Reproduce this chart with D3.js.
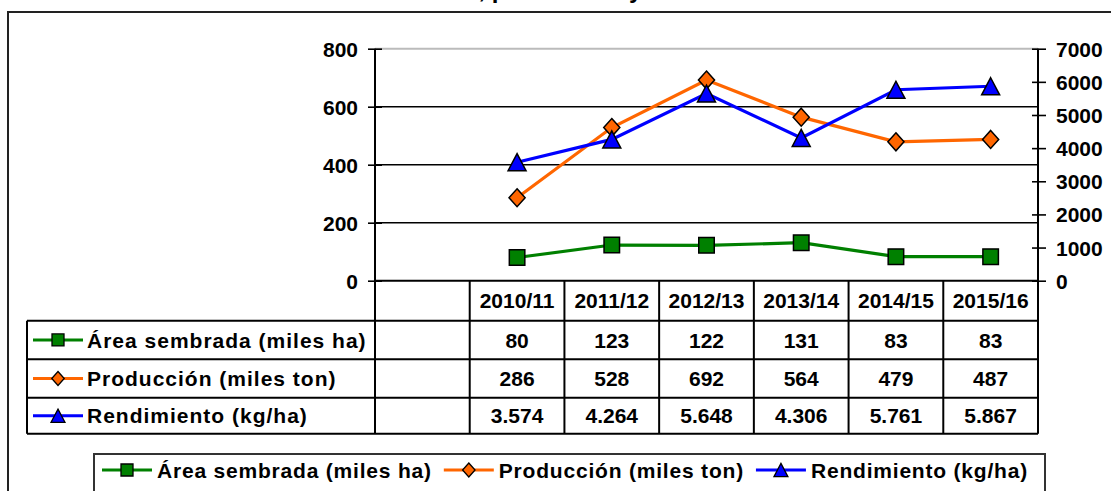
<!DOCTYPE html>
<html>
<head>
<meta charset="utf-8">
<script src="https://cdn.jsdelivr.net/npm/d3@7"></script>
<style>
  body { margin: 0; background: #fff; }
  svg { display: block; font-family: "Liberation Sans", Arial, sans-serif; font-weight: bold; }
</style>
</head>
<body>
<div class="vis-chart"></div>
<script>
// data
const seasons = ["2010/11", "2011/12", "2012/13", "2013/14", "2014/15", "2015/16"];
const areaSown = [80, 123, 122, 131, 83, 83];
const production = [286, 528, 692, 564, 479, 487];
const yieldKgHa = [3574, 4264, 5648, 4306, 5761, 5867];
const leftTicks = [0, 200, 400, 600, 800];
const rightTicks = [0, 1000, 2000, 3000, 4000, 5000, 6000, 7000];
const seriesNames = ["Área sembrada (miles ha)", "Producción (miles ton)", "Rendimiento (kg/ha)"];
const chartTitle = "Área sembrada, producción y rendimiento";

const draw = () => {
    const width = 1111, height = 491;
    const plot = {left: 375, right: 1038, top: 48.7, bottom: 280.7};
    const rowH = [40, 38.5, 38.5, 36];   // header + 3 data rows
    const labelLeft = 27;

    const esLocale = d3.formatLocale({decimal: ",", thousands: ".", grouping: [3], currency: ["", ""]});
    const fmtThousands = esLocale.format(",");

    const series = [
        {name: seriesNames[0], values: areaSown, axis: "left", color: "#008000", shape: "square", fmt: d3.format("d")},
        {name: seriesNames[1], values: production, axis: "left", color: "#FF6600", shape: "diamond", fmt: d3.format("d")},
        {name: seriesNames[2], values: yieldKgHa, axis: "right", color: "#0000FF", shape: "triangle", fmt: fmtThousands}
    ];

    const svg = d3.select(".vis-chart")
        .append("svg")
        .attr("width", width)
        .attr("height", height);

    svg.append("rect").attr("width", width).attr("height", height).attr("fill", "#fff");

    // title, mostly cut off by the top edge (as in the source image)
    svg.append("text")
        .attr("x", 305).attr("y", -2)
        .attr("font-size", 24)
        .text(chartTitle);

    // outer frame
    svg.append("rect")
        .attr("x", 8).attr("y", 12)
        .attr("width", width + 20).attr("height", height)
        .attr("fill", "none").attr("stroke", "#222").attr("stroke-width", 2);

    // one empty slot in front of the seasons, as in the source chart
    const xScale = d3.scaleBand()
        .domain([""].concat(seasons))
        .range([plot.left, plot.right]);
    const yLeft = d3.scaleLinear().domain([0, 800]).range([plot.bottom, plot.top]);
    const yRight = d3.scaleLinear().domain([0, 7000]).range([plot.bottom, plot.top]);

    // gridlines
    svg.append("g")
        .selectAll("line")
        .data(leftTicks.filter(d => d > 0))
        .join("line")
        .attr("x1", plot.left).attr("x2", plot.right)
        .attr("y1", d => yLeft(d)).attr("y2", d => yLeft(d))
        .attr("stroke", d => d === 800 ? "#bbb" : "#000")
        .attr("stroke-width", d => d === 800 ? 2 : 1.6);

    // left axis
    let gl = svg.append("g")
        .attr("transform", "translate(" + plot.left + ",0)")
        .call(d3.axisLeft(yLeft).tickValues(leftTicks).tickSize(7).tickPadding(10));
    gl.select(".domain").remove();
    gl.selectAll(".tick line").attr("x1", 7).attr("stroke", "#000").attr("stroke-width", 1.6);
    gl.selectAll(".tick text")
        .attr("font-size", 21).attr("font-family", "Liberation Sans, Arial, sans-serif")
        .attr("font-weight", "bold").attr("fill", "#000").attr("dy", "0.36em");

    // right axis
    let gr = svg.append("g")
        .attr("transform", "translate(" + plot.right + ",0)")
        .call(d3.axisRight(yRight).tickValues(rightTicks).tickFormat(d3.format("d")).tickSize(8).tickPadding(10));
    gr.select(".domain").remove();
    gr.selectAll(".tick line").attr("x1", -6).attr("stroke", "#000").attr("stroke-width", 1.6);
    gr.selectAll(".tick text")
        .attr("font-size", 21).attr("font-family", "Liberation Sans, Arial, sans-serif")
        .attr("font-weight", "bold").attr("fill", "#000").attr("dy", "0.36em");

    // row boundaries of the data table
    let rowY = [plot.bottom];
    rowH.forEach(h => rowY.push(rowY[rowY.length - 1] + h));
    const tableBottom = rowY[rowY.length - 1];

    const table = svg.append("g").attr("stroke", "#000").attr("stroke-width", 2);
    // axis lines (they run down through the table)
    table.append("line").attr("x1", plot.left).attr("x2", plot.left).attr("y1", plot.top).attr("y2", tableBottom);
    table.append("line").attr("x1", plot.right).attr("x2", plot.right).attr("y1", plot.top).attr("y2", tableBottom);
    table.append("line").attr("x1", plot.left).attr("x2", plot.right).attr("y1", plot.bottom).attr("y2", plot.bottom);
    // horizontal row lines
    table.selectAll(".row-line")
        .data(rowY.slice(1))
        .join("line")
        .attr("class", "row-line")
        .attr("x1", labelLeft).attr("x2", plot.right)
        .attr("y1", d => d).attr("y2", d => d);
    // column lines
    table.selectAll(".col-line")
        .data(seasons)
        .join("line")
        .attr("class", "col-line")
        .attr("x1", d => xScale(d)).attr("x2", d => xScale(d))
        .attr("y1", plot.bottom).attr("y2", tableBottom);
    table.append("line").attr("x1", labelLeft).attr("x2", labelLeft).attr("y1", rowY[1]).attr("y2", tableBottom);

    // header
    svg.append("g")
        .selectAll("text")
        .data(seasons)
        .join("text")
        .attr("x", d => xScale(d) + xScale.bandwidth() / 2)
        .attr("y", (rowY[0] + rowY[1]) / 2)
        .attr("dy", "0.36em")
        .attr("text-anchor", "middle")
        .attr("font-size", 21)
        .text(d => d);

    const markerPath = (shape, s) => {
        if (shape === "square") {
            return "M" + (-s / 2) + "," + (-s / 2) + "h" + s + "v" + s + "h" + (-s) + "Z";
        }
        if (shape === "diamond") {
            return "M0," + (-s * 0.58) + "L" + (s * 0.52) + ",0L0," + (s * 0.58) + "L" + (-s * 0.52) + ",0Z";
        }
        return "M0," + (-s * 0.55) + "L" + (s * 0.58) + "," + (s * 0.55) + "L" + (-s * 0.58) + "," + (s * 0.55) + "Z";
    };

    const drawKey = (g, d, cx, cy, s) => {
        g.append("line")
            .attr("x1", cx - 25).attr("x2", cx + 25)
            .attr("y1", cy).attr("y2", cy)
            .attr("stroke", d.color).attr("stroke-width", 3);
        g.append("path")
            .attr("transform", "translate(" + cx + "," + cy + ")")
            .attr("d", markerPath(d.shape, s))
            .attr("fill", d.color).attr("stroke", "#000").attr("stroke-width", 1.3);
    };

    // table rows
    series.forEach((d, i) => {
        const cy = (rowY[i + 1] + rowY[i + 2]) / 2;
        let row = svg.append("g");
        drawKey(row, d, 58, cy, 12);
        row.append("text")
            .attr("x", 87).attr("y", cy).attr("dy", "0.36em")
            .attr("font-size", 21).attr("letter-spacing", 1)
            .text(d.name);
        row.selectAll(".val")
            .data(d.values)
            .join("text")
            .attr("class", "val")
            .attr("x", (v, j) => xScale(seasons[j]) + xScale.bandwidth() / 2)
            .attr("y", cy).attr("dy", "0.36em")
            .attr("text-anchor", "middle")
            .attr("font-size", 21)
            .text(v => d.fmt(v));
    });

    // lines and markers
    series.forEach(d => {
        const yScale = d.axis === "left" ? yLeft : yRight;
        const line = d3.line()
            .x((v, j) => xScale(seasons[j]) + xScale.bandwidth() / 2)
            .y(v => yScale(v));
        svg.append("path")
            .datum(d.values)
            .attr("d", line)
            .attr("fill", "none")
            .attr("stroke", d.color)
            .attr("stroke-width", 3.2);
    });
    series.forEach(d => {
        const yScale = d.axis === "left" ? yLeft : yRight;
        svg.append("g")
            .selectAll("path")
            .data(d.values)
            .join("path")
            .attr("transform", (v, j) => "translate(" + (xScale(seasons[j]) + xScale.bandwidth() / 2) + "," + yScale(v) + ")")
            .attr("d", markerPath(d.shape, 15.5))
            .attr("fill", d.color)
            .attr("stroke", "#000")
            .attr("stroke-width", 1.5);
    });

    // legend
    const legend = svg.append("g");
    legend.append("rect")
        .attr("x", 94).attr("y", 454)
        .attr("width", 951).attr("height", 60)
        .attr("fill", "#fff").attr("stroke", "#333").attr("stroke-width", 2);
    let lx = 102;
    const ly = 470;
    series.forEach(d => {
        drawKey(legend, d, lx + 25, ly, 12);
        let t = legend.append("text")
            .attr("x", lx + 55).attr("y", ly).attr("dy", "0.36em")
            .attr("font-size", 21).attr("letter-spacing", 0.8)
            .text(d.name);
        lx += 55 + t.node().getComputedTextLength() + 12;
    });
};

draw();
</script>
</body>
</html>
